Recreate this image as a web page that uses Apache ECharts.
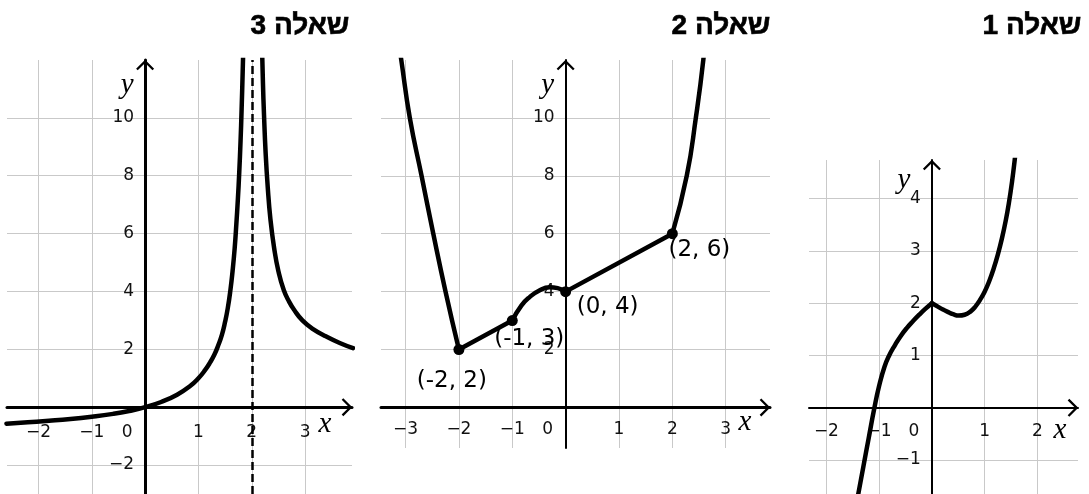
<!DOCTYPE html>
<html>
<head>
    <meta charset="utf-8">
    <title>שאלות 1-3</title>
    <script src="https://cdn.jsdelivr.net/npm/echarts@6/dist/echarts.min.js"></script>
    <style>
        html, body { margin: 0; padding: 0; background: #fff; }
        #main { width: 1089px; height: 494px; }
    </style>
</head>
<body>
    <div id='main'></div>
    <script>
        // כותרות (משמאל לימין: 3, 2, 1)
        var titles = ['שאלה 3', 'שאלה 2', 'שאלה 1'];

        // שאלה 3
        var q3XTicks = [-2, -1, 0, 1, 2, 3];
        var q3YTicks = [-2, 2, 4, 6, 8, 10];
        var q3Asymptote = 2;
        var q3LeftBranch = [[-2.6, -0.57], [-2.2, -0.52], [-1.8, -0.47], [-1.4, -0.41], [-1, -0.33], [-0.6, -0.23],
            [-0.3, -0.13], [0, 0], [0.3, 0.18], [0.6, 0.43], [0.85, 0.74], [1, 1], [1.12, 1.27], [1.22, 1.55],
            [1.3, 1.82], [1.37, 2.13], [1.44, 2.5], [1.5, 2.95], [1.55, 3.42], [1.6, 4.05], [1.64, 4.7],
            [1.68, 5.5], [1.71, 6.3], [1.74, 7.2], [1.765, 8.1], [1.79, 9.2], [1.81, 10.3], [1.83, 11.6], [1.85, 13]];
        var q3RightBranch = [[2.19, 12.6], [2.21, 11.2], [2.23, 10.1], [2.26, 8.8], [2.3, 7.6], [2.35, 6.5],
            [2.42, 5.5], [2.5, 4.7], [2.6, 4.05], [2.7, 3.65], [2.8, 3.35], [2.95, 3], [3.15, 2.7], [3.4, 2.44],
            [3.65, 2.22], [3.9, 2.04]];

        // שאלה 2
        var q2XTicks = [-3, -2, -1, 0, 1, 2, 3];
        var q2YTicks = [2, 4, 6, 8, 10];
        var q2LeftArm = [[-3.16, 13], [-3.08, 12], [-2.92, 10], [-2.7, 8], [-2.48, 6], [-2.25, 4], [-2, 2]];
        var q2Bump = [[-1, 3], [-0.83, 3.52], [-0.67, 3.82], [-0.5, 4.03], [-0.3, 4.15], [-0.15, 4.12], [0, 4]];
        var q2RightArm = [[2, 6], [2.27, 8], [2.44, 10], [2.58, 12], [2.62, 13]];
        var q2Points = [[-2, 2], [-1, 3], [0, 4], [2, 6]];
        var q2PointLabels = ['(-2, 2)', '(-1, 3)', '(0, 4)', '(2, 6)'];

        // שאלה 1
        var q1XTicks = [-2, -1, 0, 1, 2];
        var q1YTicks = [-1, 1, 2, 3, 4];
        var q1Left = [[-1.45, -1.95], [-1.39, -1.62], [-1.3, -1.13], [-1.2, -0.59], [-1.09, 0], [-1, 0.42],
            [-0.9, 0.78], [-0.81, 1], [-0.7, 1.2], [-0.6, 1.36], [-0.48, 1.52], [-0.36, 1.655], [-0.24, 1.78],
            [-0.12, 1.895], [0, 2]];
        var q1Right = [[0, 2], [0.12, 1.93], [0.22, 1.875], [0.31, 1.83], [0.4, 1.79], [0.51, 1.765], [0.62, 1.78],
            [0.73, 1.84], [0.82, 1.93], [0.91, 2.06], [1, 2.22], [1.09, 2.43], [1.17, 2.66], [1.25, 2.93],
            [1.33, 3.25], [1.4, 3.58], [1.46, 3.92], [1.52, 4.33], [1.57, 4.74], [1.62, 5.2]];

        var tickFont = 'DejaVu Sans';
        var chevron = 'path://M10,0 L20,10 L18.2,11.8 L10,3.6 L1.8,11.8 L0,10 Z';

        // מיקום כל לוח
        var panels = [
            { grid: { left: 7, top: 60, width: 345, bottom: 0 }, x: [-2.59, 3.88], y: [-3, 12],
              xTicks: q3XTicks, yTicks: q3YTicks, axisW: [3, 3], xName: [-27, 3], yName: [-25, 36], xMargin: 17 },
            { grid: { left: 381, top: 60, width: 389, bottom: 46 }, x: [-3.46, 3.83], y: [-1.4, 12],
              xTicks: q2XTicks, yTicks: q2YTicks, axisW: [3, 2], xName: [-25, 0], yName: [-25, 36], xMargin: 14 },
            { grid: { left: 809, top: 160, width: 269, bottom: 0 }, x: [-2.33, 2.77], y: [-1.65, 4.74],
              xTicks: q1XTicks, yTicks: q1YTicks, axisW: [2, 2], xName: [-18, 8], yName: [-20, 56], xMargin: 15 }
        ];

        function minus(v) { return String(v).replace('-', '\u2212'); }

        var grids = [], xAxes = [], yAxes = [], series = [];
        panels.forEach(function (p, i) {
            grids.push(Object.assign({ outerBoundsMode: 'none', containLabel: false }, p.grid));
            xAxes.push({
                gridIndex: i, type: 'value', min: p.x[0], max: p.x[1], z: 3, position: 'bottom', offset: 0,
                axisLine: { onZero: false, lineStyle: { color: '#000', width: p.axisW[0] },
                    symbol: ['none', chevron], symbolSize: [18, 11], symbolOffset: [0, -5] },
                axisTick: { show: false },
                splitLine: { show: false },
                axisLabel: {
                    customValues: p.xTicks, margin: p.xMargin, color: '#111', fontFamily: tickFont, fontSize: 17,
                    formatter: function (v) { return v === 0 ? '{z|0}' : minus(v); },
                    rich: { z: { padding: [0, 36, 0, 0], color: '#111', fontFamily: tickFont, fontSize: 17 } }
                },
                name: 'x', nameLocation: 'end', nameGap: p.xName[0], nameMoveOverlap: false,
                nameTextStyle: { fontFamily: 'Liberation Serif', fontStyle: 'italic', fontSize: 29, color: '#000',
                    align: 'center', verticalAlign: 'top', padding: [p.xName[1], 0, 0, 0] }
            });
            yAxes.push({
                gridIndex: i, type: 'value', min: p.y[0], max: p.y[1], z: 3, position: 'left', offset: 0,
                axisLine: { onZero: false, lineStyle: { color: '#000', width: p.axisW[1] },
                    symbol: ['none', chevron], symbolSize: [18, 11], symbolOffset: [0, -5] },
                axisTick: { show: false },
                splitLine: { show: false },
                axisLabel: {
                    customValues: p.yTicks, margin: 11, color: '#111', fontFamily: tickFont, fontSize: 17,
                    padding: [10, 0, 0, 0], formatter: minus
                },
                name: 'y', nameLocation: 'end', nameGap: p.yName[0], nameMoveOverlap: false,
                nameTextStyle: { fontFamily: 'Liberation Serif', fontStyle: 'italic', fontSize: 29, color: '#000',
                    align: 'center', verticalAlign: 'middle', padding: [0, p.yName[1], 0, 0] }
            });
            // קווי רשת
            var gridLines = p.xTicks.filter(function (v) { return v !== 0; }).map(function (v) { return { xAxis: v }; })
                .concat(p.yTicks.map(function (v) { return { yAxis: v }; }));
            series.push({
                type: 'line', xAxisIndex: i, yAxisIndex: i, data: [], silent: true,
                markLine: { z: 1, silent: true, symbol: ['none', 'none'], label: { show: false },
                    lineStyle: { color: '#c9c9c9', width: 1, type: 'solid' }, data: gridLines, animation: false }
            });
        });

        function curve(idx, data, smooth) {
            return {
                type: 'line', xAxisIndex: idx, yAxisIndex: idx, data: data, z: 4,
                showSymbol: false, smooth: smooth, silent: true,
                lineStyle: { color: '#000', width: 4.5, cap: 'round', join: 'round' }
            };
        }

        // שאלה 3
        var q3Left = curve(0, q3LeftBranch, 0.5);
        q3Left.markLine = { z: 5, silent: true, symbol: ['none', 'none'], label: { show: false },
            lineStyle: { color: '#000', width: 2.5, type: [8, 4] }, data: [{ xAxis: q3Asymptote }] };
        series.push(q3Left, curve(0, q3RightBranch, 0.5));

        // שאלה 2
        var q2LabelOffsets = [[-7, 31], [17, 18], [42, 15], [27, 16]];
        series.push(
            curve(1, q2LeftArm, 0.5),
            curve(1, [q2Points[0], q2Points[1]], false),
            curve(1, q2Bump, 0.5),
            curve(1, [q2Points[2], q2Points[3]], false),
            curve(1, q2RightArm, 0.5),
            {
                type: 'scatter', xAxisIndex: 1, yAxisIndex: 1, z: 6, symbolSize: 11, silent: true,
                itemStyle: { color: '#000', opacity: 1 },
                label: { show: true, position: 'inside', color: '#000', fontFamily: tickFont, fontSize: 23 },
                data: q2Points.map(function (pt, k) {
                    return { value: pt, label: { formatter: q2PointLabels[k], offset: q2LabelOffsets[k] } };
                })
            }
        );

        // שאלה 1
        series.push(curve(2, q1Left, 0.5), curve(2, q1Right, 0.5));

        var titleRights = [739, 318, 7];
        var myChart = echarts.init(document.getElementById('main'), null, { renderer: 'canvas' });
        myChart.setOption({
            animation: false,
            backgroundColor: '#fff',
            title: titles.map(function (t, i) {
                return { text: t, right: titleRights[i], top: 12, padding: 0,
                    textStyle: { fontFamily: 'Liberation Sans', fontWeight: 'bold', fontSize: 28, color: '#000',
                        textBorderColor: '#000', textBorderWidth: 0.6 } };
            }),
            grid: grids,
            xAxis: xAxes,
            yAxis: yAxes,
            series: series
        });

        // הזזת הצירים אל הראשית (התוויות זזות יחד עם הקו)
        var xOff = [], yOff = [];
        panels.forEach(function (p, i) {
            var origin = myChart.convertToPixel({ gridIndex: i }, [0, 0]);
            var corner = myChart.convertToPixel({ gridIndex: i }, [p.x[0], p.y[0]]);
            xOff.push({ offset: origin[1] - corner[1] });
            yOff.push({ offset: corner[0] - origin[0] });
        });
        myChart.setOption({ xAxis: xOff, yAxis: yOff });
    </script>
</body>
</html>
